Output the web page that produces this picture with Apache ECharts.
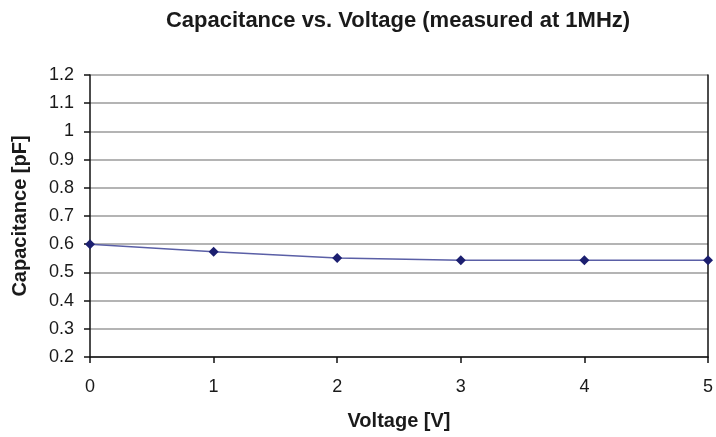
<!DOCTYPE html>
<html>
<head>
<meta charset="utf-8">
<script src="https://cdn.jsdelivr.net/npm/echarts@6/dist/echarts.min.js"></script>
<style>
html,body{margin:0;padding:0;background:#fff;}
#chart{width:716px;height:437px;}
</style>
</head>
<body>
<div id="chart"></div>
<script>
const voltage = [0, 1, 2, 3, 4, 5];
const capacitance = [0.600, 0.573, 0.551, 0.543, 0.543, 0.543];
const yTickLabels = ['0.2','0.3','0.4','0.5','0.6','0.7','0.8','0.9','1','1.1','1.2'];
const xTickLabels = ['0','1','2','3','4','5'];

const chart = echarts.init(document.getElementById('chart'));
const font = 'Liberation Sans, Arial, sans-serif';
chart.setOption({
  animation: false,
  backgroundColor: '#fff',
  title: {
    text: 'Capacitance vs. Voltage (measured at 1MHz)',
    left: 393, top: 5, textAlign: 'center',
    textStyle: {fontFamily: font, fontSize: 22, fontWeight: 'bold', color: '#1a1a1a'}
  },
  grid: {left: 90, right: 7, top: 75, bottom: 80},
  xAxis: {
    type: 'value',
    min: Number(xTickLabels[0]), max: Number(xTickLabels[xTickLabels.length-1]), interval: 1,
    name: 'Voltage [V]', nameLocation: 'middle', nameGap: 54,
    nameTextStyle: {fontFamily: font, fontSize: 20, fontWeight: 'bold', color: '#1a1a1a'},
    axisLine: {lineStyle: {color: '#111', width: 1.5}},
    axisTick: {length: 6, lineStyle: {color: '#111', width: 1.5}},
    axisLabel: {fontFamily: font, fontSize: 18, color: '#1a1a1a', margin: 21},
    splitLine: {show: false}
  },
  yAxis: [{
    type: 'value',
    min: Number(yTickLabels[0]), max: Number(yTickLabels[yTickLabels.length-1]), interval: 0.1,
    name: 'Capacitance [pF]', nameLocation: 'middle', nameGap: 60, nameRotate: 90,
    nameTextStyle: {fontFamily: font, fontSize: 20, fontWeight: 'bold', color: '#1a1a1a'},
    axisLine: {show: true, lineStyle: {color: '#111', width: 1.5}},
    axisTick: {show: true, length: 6, lineStyle: {color: '#111', width: 1.5}},
    axisLabel: {fontFamily: font, fontSize: 18, color: '#1a1a1a', margin: 16,
      formatter: v => String(+v.toFixed(1))},
    splitLine: {show: true, lineStyle: {color: '#b4b4b4', width: 2}}
  }, {
    type: 'value', position: 'right',
    min: Number(yTickLabels[0]), max: Number(yTickLabels[yTickLabels.length-1]), interval: 0.1,
    axisLine: {show: true, lineStyle: {color: '#111', width: 1.5}},
    axisTick: {show: false}, axisLabel: {show: false}, splitLine: {show: false}
  }],
  series: [{
    type: 'line',
    data: voltage.map((v, i) => [v, capacitance[i]]),
    symbol: 'diamond', symbolSize: 10,
    lineStyle: {color: '#5a5fa6', width: 1.5},
    itemStyle: {color: '#1c1f70'}
  }]
});
</script>
</body>
</html>
